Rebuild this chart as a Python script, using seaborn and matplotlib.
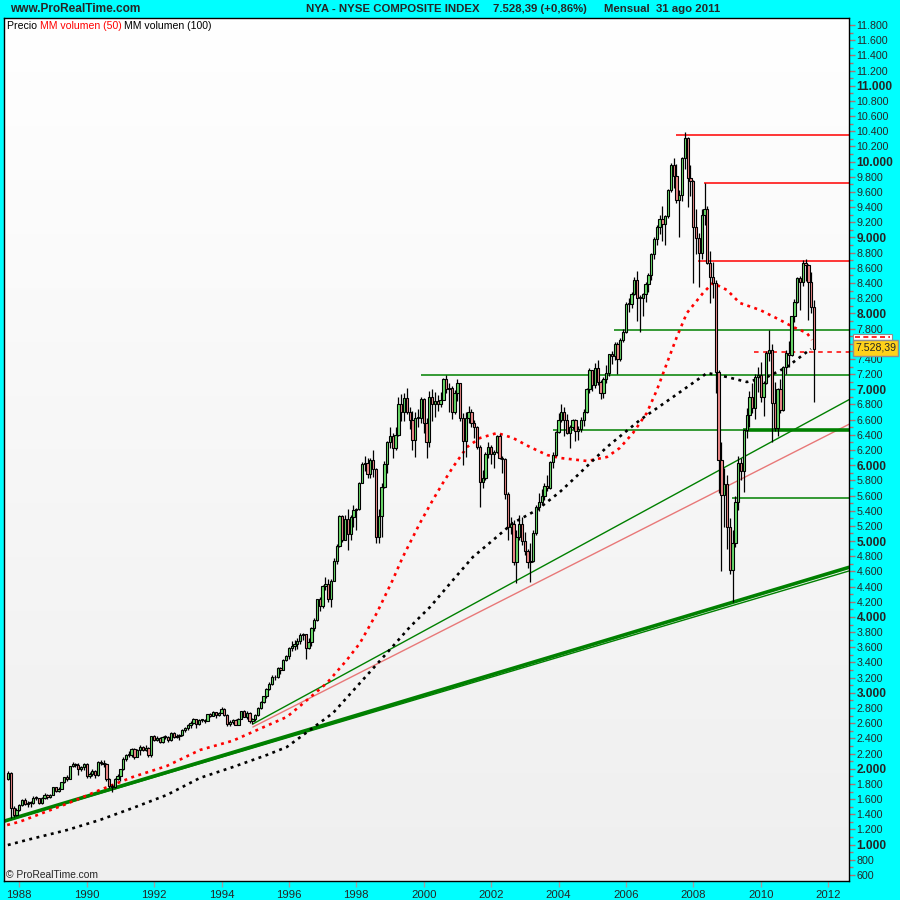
import numpy as np
import pandas as pd
import matplotlib
matplotlib.use("Agg")
import matplotlib.pyplot as plt
import seaborn as sns
from matplotlib.colors import LinearSegmentedColormap
from matplotlib.patches import Rectangle
from matplotlib.lines import Line2D

# -----------------------------
# DATA (monthly candles, Sep 1987 .. Aug 2011)
# -----------------------------
first_open = 1870
closes = [
    1940, 1480, 1390, 1461,
    1522, 1586, 1533, 1548, 1553, 1621, 1612, 1551, 1613, 1656, 1625, 1652,
    1755, 1703, 1738, 1824, 1887, 1871, 2034, 2064, 2048, 1994, 2023, 2062,
    1909, 1925, 1972, 1919, 2095, 2077, 2066, 1871, 1775, 1763, 1869, 1908,
    1995, 2129, 2176, 2177, 2261, 2153, 2249, 2293, 2250, 2276, 2176, 2426,
    2383, 2406, 2354, 2419, 2421, 2379, 2473, 2414, 2436, 2441, 2515, 2540,
    2576, 2603, 2651, 2584, 2643, 2645, 2631, 2721, 2694, 2746, 2711, 2739,
    2793, 2709, 2585, 2615, 2648, 2577, 2658, 2758, 2684, 2740, 2631, 2653,
    2714, 2807, 2879, 2954, 3056, 3116, 3209, 3203, 3325, 3303, 3432, 3484,
    3594, 3618, 3641, 3689, 3767, 3776, 3597, 3664, 3856, 3957, 4239, 4148,
    4402, 4429, 4232, 4480, 4742, 4939, 5325, 5019, 5286, 5094, 5322, 5405,
    5421, 5771, 6016, 6026, 5880, 6066, 5951, 5054, 5329, 5713, 6016, 6300,
    6380, 6230, 6400, 6800, 6700, 6890, 6700, 6590, 6330, 6620, 6620, 6876,
    6560, 6300, 6900, 6800, 6850, 6800, 6860, 7140, 7000, 7020, 6700, 6946,
    7080, 6620, 6320, 6620, 6700, 6560, 6500, 6240, 5780, 5830, 6150, 6236,
    6150, 6180, 6380, 6100, 6080, 5620, 5180, 5230, 4720, 5060, 5230, 5000,
    4870, 4730, 4740, 5110, 5450, 5510, 5600, 5720, 5700, 6040, 6130, 6440,
    6600, 6700, 6590, 6430, 6500, 6600, 6450, 6480, 6600, 6700, 7000, 7250,
    7050, 7280, 7100, 6950, 7130, 7220, 7460, 7440, 7600, 7400, 7650, 7754,
    8120, 8120, 8250, 8440, 8200, 8200, 8250, 8390, 8500, 8780, 8980, 9139,
    9240, 9180, 9280, 9630, 9960, 9810, 9490, 9560, 10050, 10311, 9790, 9740,
    9140, 8990, 8800, 9290, 9380, 8670, 8480, 8400, 7230, 6070, 5610, 5757,
    5190, 4620, 4980, 5510, 6030, 5920, 6460, 6660, 6900, 6750, 7160, 7185,
    6900, 7080, 7480, 7520, 6820, 6490, 7000, 6730, 7290, 7480, 7450, 7964,
    8150, 8460, 8420, 8670, 8640, 8420, 8090, 7528,
]
highs = [
    1975, 1960, 1510, 1480,
    1540, 1600, 1610, 1570, 1570, 1640, 1640, 1615, 1625, 1675, 1665, 1665,
    1760, 1765, 1760, 1830, 1895, 1920, 2040, 2090, 2075, 2080, 2035, 2070,
    2075, 1960, 2000, 1990, 2100, 2120, 2110, 2070, 1880, 1800, 1880, 1930,
    2000, 2150, 2200, 2230, 2275, 2270, 2260, 2310, 2305, 2310, 2290, 2430,
    2450, 2430, 2420, 2435, 2450, 2430, 2480, 2480, 2460, 2460, 2520, 2550,
    2590, 2630, 2670, 2660, 2660, 2660, 2660, 2725, 2730, 2760, 2750, 2750,
    2810, 2800, 2720, 2640, 2660, 2660, 2665, 2765, 2770, 2760, 2745, 2670,
    2725, 2810, 2890, 2960, 3070, 3140, 3230, 3240, 3340, 3340, 3440, 3500,
    3600, 3680, 3700, 3720, 3790, 3790, 3780, 3720, 3870, 3980, 4240, 4260,
    4420, 4520, 4500, 4500, 4780, 4960, 5340, 5340, 5340, 5420, 5340, 5480,
    5440, 5780, 6040, 6120, 6090, 6090, 6200, 5960, 5420, 5760, 6060, 6320,
    6500, 6420, 6500, 6900, 6940, 6950, 7020, 6760, 6720, 6700, 6740, 6900,
    6880, 6620, 6980, 7000, 6960, 6920, 6960, 7150, 7190, 7080, 7040, 6990,
    7140, 7080, 6690, 6700, 6780, 6740, 6600, 6520, 6270, 5930, 6180, 6300,
    6270, 6200, 6400, 6410, 6120, 6090, 5640, 5320, 5280, 5150, 5340, 5320,
    5120, 4890, 4970, 5140, 5480, 5630, 5680, 5760, 5870, 6050, 6180, 6450,
    6690, 6810, 6760, 6680, 6530, 6610, 6610, 6520, 6640, 6740, 7020, 7280,
    7260, 7340, 7380, 7120, 7160, 7320, 7470, 7510, 7620, 7620, 7680, 7800,
    8150, 8200, 8280, 8480, 8560, 8240, 8270, 8420, 8530, 8800, 9000, 9170,
    9290, 9420, 9300, 9640, 9980, 10050, 9970, 9620, 10060, 10387, 10320, 9960,
    9760, 9380, 9060, 9380, 9718, 9420, 8820, 8680, 8440, 7260, 6300, 5960,
    5870, 5300, 5150, 5600, 6120, 6100, 6480, 6750, 6980, 7080, 7200, 7300,
    7360, 7110, 7500, 7782, 7600, 7100, 7020, 7140, 7310, 7520, 7640, 7970,
    8190, 8480, 8490, 8700, 8718, 8650, 8540, 8180,
]
lows = [
    1850, 1350, 1370, 1380,
    1440, 1510, 1520, 1500, 1500, 1540, 1590, 1535, 1540, 1600, 1600, 1610,
    1650, 1695, 1700, 1735, 1810, 1840, 1860, 2020, 2020, 1920, 1970, 1990,
    1880, 1880, 1900, 1880, 1910, 2050, 2020, 1840, 1740, 1700, 1750, 1850,
    1840, 1990, 2100, 2150, 2160, 2130, 2150, 2180, 2230, 2230, 2160, 2160,
    2360, 2360, 2340, 2340, 2390, 2350, 2360, 2400, 2400, 2380, 2430, 2490,
    2510, 2540, 2590, 2540, 2570, 2610, 2600, 2630, 2680, 2690, 2670, 2700,
    2730, 2700, 2560, 2560, 2590, 2570, 2570, 2650, 2680, 2660, 2600, 2590,
    2630, 2700, 2790, 2870, 2930, 3040, 3100, 3170, 3200, 3250, 3300, 3420,
    3440, 3550, 3560, 3580, 3640, 3700, 3450, 3580, 3620, 3820, 3950, 4080,
    4120, 4360, 4200, 4130, 4470, 4700, 4920, 4990, 5010, 4880, 5020, 5190,
    5150, 5410, 5760, 5920, 5830, 5830, 5850, 4980, 4980, 5050, 5700, 5900,
    6230, 6100, 6200, 6380, 6580, 6580, 6670, 6480, 6200, 6110, 6500, 6560,
    6430, 6100, 6240, 6580, 6640, 6720, 6760, 6860, 6950, 6700, 6610, 6680,
    6850, 6580, 6000, 6110, 6560, 6500, 6360, 6210, 5450, 5700, 5810, 6090,
    6020, 5960, 6160, 6080, 5900, 5560, 5010, 5090, 4690, 4450, 5020, 4950,
    4820, 4650, 4460, 4730, 5080, 5390, 5470, 5540, 5660, 5690, 5960, 6120,
    6420, 6570, 6380, 6410, 6230, 6470, 6320, 6330, 6440, 6510, 6690, 6950,
    6980, 7020, 7060, 6870, 6890, 7080, 7180, 7330, 7380, 7200, 7370, 7620,
    7740, 8020, 8070, 8240, 7900, 7750, 7970, 8150, 8280, 8440, 8720, 8900,
    9050, 8960, 8900, 9260, 9600, 9650, 9460, 9000, 9480, 9900, 9400, 9550,
    8400, 8780, 8350, 8720, 9170, 8650, 8137, 8200, 6950, 5630, 4600, 5180,
    4900, 4570, 4197, 4920, 5410, 5800, 5650, 6360, 6500, 6690, 6610, 6960,
    6830, 6650, 7070, 7370, 6300, 6450, 6380, 6690, 6720, 7200, 7300, 7440,
    7890, 8140, 8040, 8360, 8430, 7910, 8010, 6830,
]

# moving averages (dotted curves)
ma50_date = [1987.64, 1988.02, 1988.41, 1989.42, 1990.39, 1991.37, 1992.38, 1993.36,
             1994.34, 1995.35, 1995.94, 1996.33, 1997.13, 1997.72, 1998.11, 1998.61,
             1999.08, 1999.38, 1999.89, 2000.27, 2000.57, 2000.87, 2001.29, 2001.67,
             2002.18, 2002.65, 2003.15, 2003.66, 2004.04, 2004.85, 2005.44, 2005.82,
             2006.21, 2006.62, 2006.92, 2007.22, 2007.51, 2007.81, 2008.29, 2008.58,
             2009.00, 2009.38, 2009.98, 2010.57, 2010.96, 2011.37, 2011.52]
ma50_val = [1259, 1303, 1369, 1540, 1720, 1892, 2037, 2247, 2370, 2568, 2683, 2827,
            3130, 3433, 3657, 4053, 4487, 4790, 5238, 5541, 5765, 5976, 6240, 6358,
            6424, 6358, 6240, 6134, 6095, 6055, 6108, 6227, 6424, 6688, 6991, 7347,
            7689, 8005, 8269, 8401, 8308, 8137, 8045, 7914, 7821, 7742, 7650]
ma100_date = [1987.66, 1988.23, 1989.42, 1990.39, 1991.37, 1992.38, 1993.36, 1994.34,
              1995.35, 1995.94, 1997.31, 1998.11, 1998.91, 1999.59, 2000.19, 2000.87,
              2001.46, 2002.06, 2002.65, 2003.36, 2004.04, 2004.42, 2005.44, 2006.42,
              2007.40, 2008.41, 2009.00, 2009.59, 2010.19, 2010.78, 2011.37, 2011.49]
ma100_val = [995, 1062, 1193, 1325, 1483, 1655, 1879, 2023, 2182, 2287, 2735, 3130,
             3526, 3868, 4132, 4487, 4790, 5014, 5238, 5410, 5647, 5805, 6240, 6596,
             6899, 7215, 7162, 7096, 7162, 7294, 7492, 7531]

# trend lines: (date0, value0, date1, value1)
trend_thick = (1987.531, 1307, 2012.62, 4654)
trend_thin = (1987.531, 1299, 2012.62, 4606)
trend_upper = (1994.93, 2590, 2012.62, 6863)
trend_salmon = (1994.93, 2550, 2012.62, 6539)

# horizontal levels: value, start date
red_levels = [(10347, 2007.49), (9714, 2008.32), (8686, 2008.14)]
green_levels = [(7777, 2005.65), (7184, 1999.92), (6467, 2003.84), (5563, 2009.15)]
thick_level = (6467, 2009.47)
dashed_level = (7490, 2009.80)

# -----------------------------
# FRAME
# -----------------------------
sns.set_style("white")
plt.rcParams['font.family'] = ['Liberation Sans', 'DejaVu Sans']

W = H = 900
XMIN, XMAX = 1987.531, 2012.62
YMIN, YMAX = 517, 11888

months = pd.date_range("1987-09-01", periods=len(closes), freq="MS")
xpos = np.array(months.year + (months.month - 1) / 12.0)
opens = np.array([first_open] + closes[:-1])
closes_a = np.array(closes)
up = closes_a >= opens

fig = plt.figure(figsize=(9, 9), dpi=100, facecolor='#00ffff')
ax = fig.add_axes([3.5 / W, (H - 881.3) / H, (849 - 3.5) / W, (881.3 - 18.3) / H])

bg = LinearSegmentedColormap.from_list('bg', ['#ffffff', '#efefef'])
ax.imshow(np.linspace(0, 1, 256).reshape(-1, 1), cmap=bg, aspect='auto',
          extent=[XMIN, XMAX, YMIN, YMAX], origin='upper', zorder=0)

# -----------------------------
# TREND + LEVEL LINES
# -----------------------------
for (d0, v0, d1, v1), col, lw in [(trend_thick, '#008000', 2.6), (trend_thin, '#008000', 1.0),
                                  (trend_upper, '#008000', 1.0), (trend_salmon, '#e87878', 1.0)]:
    ax.plot([d0, d1], [v0, v1], color=col, lw=lw, zorder=2)

for v, d in red_levels:
    ax.hlines(v, d, XMAX, colors='#ff0000', lw=1.1, zorder=2)
for v, d in green_levels:
    ax.hlines(v, d, XMAX, colors='#008000', lw=1.1, zorder=2)
ax.hlines(thick_level[0], thick_level[1], XMAX, colors='#008000', lw=2.6, zorder=2)
ax.hlines(dashed_level[0], dashed_level[1], XMAX, colors='#ff0000', lw=1.1,
          linestyles=(0, (3, 3)), zorder=2)

# -----------------------------
# MOVING AVERAGES
# -----------------------------
sns.lineplot(x=ma50_date, y=ma50_val, ax=ax, color='#ff0000', lw=1.9,
             linestyle=(0, (1.1, 1.7)), zorder=3)
sns.lineplot(x=ma100_date, y=ma100_val, ax=ax, color='#000000', lw=1.9,
             linestyle=(0, (1.1, 1.7)), zorder=3)

# -----------------------------
# CANDLES
# -----------------------------
ax.vlines(xpos, lows, highs, color='black', lw=0.9, zorder=4)
body_lo = np.minimum(opens, closes_a)
body_h = np.maximum(np.abs(closes_a - opens), 12)
ax.bar(xpos[up], body_h[up], bottom=body_lo[up], width=0.068, color='#6ee06e',
       edgecolor='black', lw=0.8, zorder=5)
ax.bar(xpos[~up], body_h[~up], bottom=body_lo[~up], width=0.068, color='#f28c8c',
       edgecolor='black', lw=0.8, zorder=5)

# -----------------------------
# AXES
# -----------------------------
ax.set_xlim(XMIN, XMAX)
ax.set_ylim(YMIN, YMAX)
ax.set_xlabel('')
ax.set_ylabel('')

ax.yaxis.tick_right()
yt = list(range(600, 11801, 200))
ax.set_yticks(yt)
ax.set_yticks(list(range(600, 11801, 100)), minor=True)
# the 7.600 label sits under the last-price boxes, as in the original
ax.set_yticklabels(["" if v == 7600 else f"{v:,}".replace(",", ".") for v in yt])
for v, lab in zip(yt, ax.get_yticklabels()):
    if v % 1000 == 0 and v >= 1000:
        lab.set_fontweight('bold')
        lab.set_fontsize(8.6)
    else:
        lab.set_fontsize(7.7)
ax.tick_params(axis='y', which='both', direction='out', color='#b07070', length=4,
               width=1, pad=1.5, left=False, right=True)
ax.tick_params(axis='y', which='minor', length=3)

xt = list(range(1988, 2013, 2))
ax.set_xticks(xt)
ax.set_xticklabels([str(v) for v in xt], fontsize=8.2)
ax.tick_params(axis='x', direction='out', color='#a0a0a0', length=4, width=1, pad=2,
               bottom=True)

for s in ax.spines.values():
    s.set_color('black')
    s.set_linewidth(1.0)
ax.grid(False)

# -----------------------------
# TEXTS
# -----------------------------
def fx(px):
    return px / W


def fy(py):
    return 1 - py / H


fig.text(fx(10), fy(9.5), "www.ProRealTime.com", fontsize=8.6, fontweight='bold', va='center')
fig.text(fx(306), fy(9.5), "NYA - NYSE COMPOSITE INDEX", fontsize=8.2, fontweight='bold', va='center')
fig.text(fx(493), fy(9.5), "7.528,39 (+0,86%)", fontsize=8.2, fontweight='bold', va='center')
fig.text(fx(604), fy(9.5), "Mensual  31 ago 2011", fontsize=8.2, fontweight='bold', va='center')

fig.canvas.draw()
renderer = fig.canvas.get_renderer()
xcur = 7
for txt, col in [("Precio ", 'black'), ("MM volumen (50) ", '#ff0000'), ("MM volumen (100)", 'black')]:
    t = fig.text(fx(xcur), fy(26), txt, fontsize=7.6, color=col, va='center')
    xcur += t.get_window_extent(renderer).width

fig.text(fx(6), fy(875), "\u00a9 ProRealTime.com", fontsize=7.4, va='center')

# last-price labels on the right scale
fig.add_artist(Rectangle((fx(853), fy(340)), fx(39), 6 / H, transform=fig.transFigure,
                         facecolor='white', edgecolor='#909090', lw=0.8, zorder=10))
fig.add_artist(Line2D([fx(855), fx(890)], [fy(337), fy(337)], transform=fig.transFigure,
                      color='#ff0000', lw=1.2, ls=(0, (3, 2)), zorder=11))
fig.add_artist(Rectangle((fx(853), fy(356)), fx(45), 16 / H, transform=fig.transFigure,
                         facecolor='#ffd21a', edgecolor='#909090', lw=1.0, zorder=12))
fig.text(fx(875.5), fy(348), "7.528,39", fontsize=7.6, ha='center', va='center', zorder=13)

fig.savefig("out.png", dpi=100, facecolor=fig.get_facecolor())
